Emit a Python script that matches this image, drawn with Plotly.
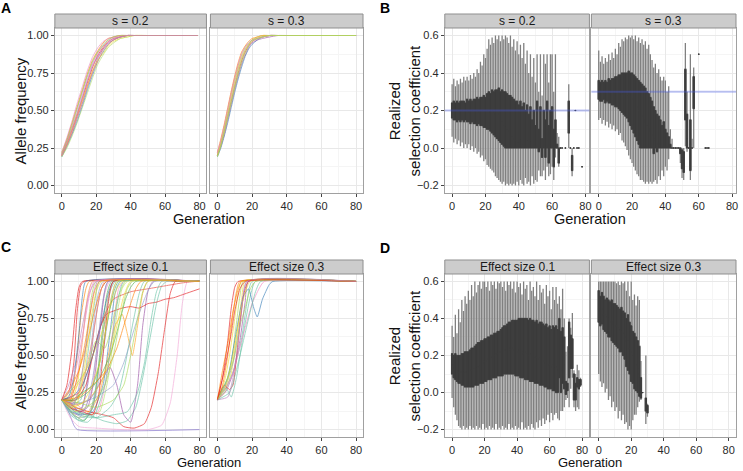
import plotly.graph_objects as go

W, H = 743, 471

# ---------------- Panel A: allele frequency trajectories ----------------
a_s02_gens = [0, 3, 6, 9, 12, 15, 18, 21, 24, 27, 30, 34, 38, 42, 50, 79]
a_s02_freqs = [
    [0.20, 0.28, 0.37, 0.47, 0.58, 0.69, 0.79, 0.87, 0.92, 0.96, 0.98, 0.99, 1.0, 1.0, 1.0, 1.0],
    [0.21, 0.30, 0.40, 0.51, 0.62, 0.73, 0.82, 0.89, 0.94, 0.97, 0.99, 1.0, 1.0, 1.0, 1.0, 1.0],
    [0.19, 0.26, 0.34, 0.43, 0.53, 0.64, 0.74, 0.83, 0.89, 0.94, 0.97, 0.99, 1.0, 1.0, 1.0, 1.0],
    [0.22, 0.31, 0.42, 0.53, 0.64, 0.75, 0.84, 0.90, 0.95, 0.98, 0.99, 1.0, 1.0, 1.0, 1.0, 1.0],
    [0.20, 0.27, 0.35, 0.45, 0.55, 0.66, 0.76, 0.85, 0.91, 0.95, 0.97, 0.99, 1.0, 1.0, 1.0, 1.0],
    [0.21, 0.29, 0.39, 0.49, 0.60, 0.71, 0.81, 0.88, 0.93, 0.96, 0.98, 0.99, 1.0, 1.0, 1.0, 1.0],
    [0.20, 0.28, 0.38, 0.48, 0.57, 0.67, 0.77, 0.84, 0.88, 0.93, 0.96, 0.98, 0.99, 1.0, 1.0, 1.0],
    [0.22, 0.32, 0.43, 0.55, 0.66, 0.77, 0.86, 0.92, 0.96, 0.98, 0.99, 1.0, 1.0, 1.0, 1.0, 1.0],
    [0.19, 0.25, 0.33, 0.42, 0.52, 0.62, 0.72, 0.81, 0.87, 0.92, 0.95, 0.98, 0.99, 1.0, 1.0, 1.0],
    [0.21, 0.30, 0.41, 0.52, 0.63, 0.74, 0.83, 0.89, 0.93, 0.97, 0.99, 1.0, 1.0, 1.0, 1.0, 1.0],
    [0.20, 0.27, 0.36, 0.46, 0.56, 0.67, 0.76, 0.83, 0.90, 0.94, 0.97, 0.99, 1.0, 1.0, 1.0, 1.0],
    [0.20, 0.29, 0.38, 0.48, 0.59, 0.70, 0.80, 0.86, 0.91, 0.95, 0.98, 0.99, 1.0, 1.0, 1.0, 1.0],
]

a_s03_gens = [0, 2, 4, 6, 8, 10, 12, 14, 16, 18, 20, 23, 26, 30, 35, 40, 80]
a_s03_freqs = [
    [0.20, 0.27, 0.36, 0.46, 0.56, 0.66, 0.75, 0.83, 0.89, 0.93, 0.96, 0.98, 0.99, 1.0, 1.0, 1.0, 1.0],
    [0.21, 0.29, 0.39, 0.50, 0.61, 0.71, 0.80, 0.87, 0.92, 0.95, 0.97, 0.99, 1.0, 1.0, 1.0, 1.0, 1.0],
    [0.19, 0.25, 0.33, 0.42, 0.52, 0.62, 0.71, 0.79, 0.86, 0.91, 0.94, 0.97, 0.99, 1.0, 1.0, 1.0, 1.0],
    [0.22, 0.31, 0.41, 0.52, 0.63, 0.73, 0.82, 0.89, 0.93, 0.96, 0.98, 0.99, 1.0, 1.0, 1.0, 1.0, 1.0],
    [0.20, 0.26, 0.34, 0.44, 0.54, 0.64, 0.73, 0.81, 0.87, 0.92, 0.95, 0.97, 0.98, 0.99, 1.0, 1.0, 1.0],
    [0.21, 0.28, 0.37, 0.48, 0.59, 0.69, 0.78, 0.85, 0.90, 0.94, 0.96, 0.98, 0.99, 1.0, 1.0, 1.0, 1.0],
    [0.20, 0.28, 0.38, 0.49, 0.60, 0.70, 0.79, 0.86, 0.91, 0.94, 0.97, 0.99, 1.0, 1.0, 1.0, 1.0, 1.0],
    [0.22, 0.30, 0.40, 0.51, 0.62, 0.72, 0.81, 0.88, 0.92, 0.95, 0.97, 0.98, 0.99, 1.0, 1.0, 1.0, 1.0],
    [0.19, 0.26, 0.35, 0.45, 0.55, 0.65, 0.74, 0.82, 0.88, 0.93, 0.96, 0.98, 0.99, 1.0, 1.0, 1.0, 1.0],
    [0.20, 0.27, 0.37, 0.47, 0.57, 0.67, 0.77, 0.84, 0.90, 0.94, 0.97, 0.98, 0.99, 1.0, 1.0, 1.0, 1.0],
]

# ---------------- Panel C: allele frequency trajectories ----------------
eff01_gens = [
    [0, 4, 7, 9, 11, 13, 80], [0, 5, 8, 11, 14, 16, 80], [0, 5, 9, 12, 15, 18, 80],
    [0, 6, 10, 14, 17, 20, 80], [0, 6, 11, 15, 19, 22, 80], [0, 7, 12, 16, 20, 24, 80],
    [0, 5, 10, 15, 19, 23, 26, 80], [0, 6, 12, 17, 21, 25, 28, 80], [0, 8, 14, 19, 23, 27, 30, 80],
    [0, 7, 13, 18, 22, 26, 29, 80], [0, 6, 12, 18, 24, 28, 31, 34, 80], [0, 8, 15, 21, 26, 30, 33, 36, 80],
    [0, 5, 10, 16, 22, 27, 31, 35, 38, 80], [0, 4, 7, 9, 80],
    [0, 5, 10, 20, 35, 50, 58, 63, 67, 70, 73, 80],
    [0, 8, 16, 24, 30, 36, 42, 48, 52, 56, 60, 63, 66, 80],
    [0, 8, 16, 24, 32, 38, 43, 47, 51, 55, 58, 61, 80],
    [0, 10, 20, 28, 33, 37, 41, 45, 48, 80],
    [0, 8, 16, 24, 28, 32, 36, 40, 44, 47, 50, 53, 80],
    [0, 8, 16, 22, 27, 31, 35, 38, 41, 44, 47, 50, 80],
    [0, 8, 14, 18, 22, 26, 30, 35, 40, 45, 50, 55, 60, 65, 70, 75, 80],
    [0, 10, 18, 24, 30, 40, 50, 60, 70, 78, 80],
    [0, 10, 20, 30, 36, 40, 44, 48, 51, 54, 80],
    [0, 8, 15, 22, 28, 33, 37, 40, 43, 80], [0, 6, 12, 18, 24, 28, 32, 35, 80],
    [0, 6, 12, 18, 23, 27, 30, 80], [0, 8, 14, 20, 25, 29, 33, 37, 80],
    [0, 5, 10, 15, 19, 23, 26, 80], [0, 4, 8, 12, 16, 20, 80], [0, 3, 6, 8, 10, 12, 80],
    [0, 4, 8, 12, 15, 18, 80], [0, 5, 9, 13, 17, 20, 23, 80],
    [0, 5, 9, 12, 16, 20, 24, 28, 31, 80], [0, 5, 9, 13, 17, 21, 25, 29, 32, 80],
    [0, 10, 20, 30, 38, 44, 48, 52, 55, 58, 80], [0, 8, 15, 22, 27, 32, 36, 40, 80],
    [0, 10, 18, 26, 32, 36, 40, 43, 46, 80], [0, 6, 12, 18, 21, 24, 27, 30, 80],
    [0, 5, 10, 15, 19, 23, 27, 80], [0, 6, 12, 18, 22, 26, 30, 33, 80],
    [0, 10, 20, 30, 36, 40, 44, 47, 50, 80], [0, 4, 7, 10, 12, 14, 80],
    [0, 4, 8, 12, 15, 18, 21, 80], [0, 5, 10, 14, 18, 22, 25, 80],
    [0, 6, 10, 14, 18, 21, 24, 27, 80], [0, 6, 12, 17, 22, 26, 29, 32, 80],
    [0, 5, 10, 15, 20, 25, 29, 33, 36, 80], [0, 4, 9, 13, 16, 19, 80],
    [0, 7, 14, 20, 25, 30, 34, 38, 41, 80], [0, 5, 9, 13, 16, 19, 22, 80],
]
eff01_freqs = [
    [0.2, 0.25, 0.45, 0.8, 0.97, 1.0, 1.0], [0.2, 0.22, 0.4, 0.75, 0.95, 1.0, 1.0],
    [0.2, 0.18, 0.3, 0.6, 0.9, 1.0, 1.0], [0.2, 0.15, 0.25, 0.55, 0.88, 1.0, 1.0],
    [0.2, 0.17, 0.2, 0.5, 0.85, 1.0, 1.0], [0.2, 0.14, 0.15, 0.45, 0.85, 1.0, 1.0],
    [0.2, 0.12, 0.1, 0.3, 0.7, 0.95, 1.0, 1.0], [0.2, 0.15, 0.12, 0.25, 0.6, 0.92, 1.0, 1.0],
    [0.2, 0.13, 0.1, 0.2, 0.55, 0.9, 1.0, 1.0], [0.2, 0.1, 0.06, 0.15, 0.5, 0.9, 1.0, 1.0],
    [0.2, 0.12, 0.1, 0.12, 0.3, 0.65, 0.92, 1.0, 1.0], [0.2, 0.18, 0.1, 0.12, 0.35, 0.7, 0.95, 1.0, 1.0],
    [0.2, 0.12, 0.08, 0.1, 0.12, 0.35, 0.7, 0.95, 1.0, 1.0], [0.2, 0.12, 0.03, 0.0, 0.0],
    [0.2, 0.08, 0.02, 0.01, 0.0, 0.0, 0.03, 0.18, 0.5, 0.85, 1.0, 1.0],
    [0.2, 0.15, 0.12, 0.1, 0.08, 0.02, 0.01, 0.04, 0.15, 0.38, 0.7, 0.92, 1.0, 1.0],
    [0.2, 0.12, 0.1, 0.06, 0.04, 0.06, 0.15, 0.35, 0.6, 0.85, 0.97, 1.0, 1.0],
    [0.2, 0.1, 0.08, 0.15, 0.25, 0.45, 0.7, 0.92, 1.0, 1.0],
    [0.2, 0.17, 0.2, 0.35, 0.42, 0.3, 0.1, 0.05, 0.3, 0.7, 0.93, 1.0, 1.0],
    [0.2, 0.15, 0.12, 0.25, 0.5, 0.7, 0.78, 0.65, 0.5, 0.7, 0.92, 1.0, 1.0],
    [0.2, 0.2, 0.3, 0.5, 0.68, 0.78, 0.8, 0.82, 0.83, 0.82, 0.85, 0.86, 0.88, 0.89, 0.91, 0.93, 0.95],
    [0.2, 0.25, 0.5, 0.75, 0.88, 0.93, 0.95, 0.97, 0.99, 1.0, 1.0],
    [0.2, 0.18, 0.22, 0.3, 0.45, 0.6, 0.75, 0.88, 0.96, 1.0, 1.0],
    [0.2, 0.2, 0.25, 0.35, 0.5, 0.7, 0.88, 0.96, 1.0, 1.0], [0.2, 0.25, 0.35, 0.5, 0.68, 0.82, 0.95, 1.0, 1.0],
    [0.2, 0.22, 0.3, 0.5, 0.72, 0.92, 1.0, 1.0], [0.2, 0.3, 0.4, 0.6, 0.55, 0.7, 0.9, 1.0, 1.0],
    [0.2, 0.28, 0.4, 0.6, 0.8, 0.95, 1.0, 1.0], [0.2, 0.3, 0.45, 0.7, 0.92, 1.0, 1.0],
    [0.2, 0.3, 0.55, 0.8, 0.96, 1.0, 1.0],
    [0.2, 0.2, 0.3, 0.6, 0.88, 1.0, 1.0], [0.2, 0.14, 0.18, 0.4, 0.75, 0.93, 1.0, 1.0],
    [0.2, 0.12, 0.07, 0.06, 0.1, 0.3, 0.65, 0.93, 1.0, 1.0], [0.2, 0.15, 0.1, 0.08, 0.12, 0.3, 0.6, 0.9, 1.0, 1.0],
    [0.2, 0.12, 0.08, 0.1, 0.12, 0.25, 0.45, 0.75, 0.93, 1.0, 1.0], [0.2, 0.16, 0.2, 0.3, 0.45, 0.7, 0.9, 1.0, 1.0],
    [0.2, 0.22, 0.3, 0.4, 0.55, 0.7, 0.85, 0.95, 1.0, 1.0], [0.2, 0.14, 0.12, 0.1, 0.2, 0.5, 0.85, 1.0, 1.0],
    [0.2, 0.18, 0.12, 0.15, 0.35, 0.75, 1.0, 1.0], [0.2, 0.2, 0.25, 0.3, 0.45, 0.7, 0.92, 1.0, 1.0],
    [0.2, 0.18, 0.15, 0.2, 0.3, 0.5, 0.75, 0.93, 1.0, 1.0], [0.2, 0.22, 0.35, 0.65, 0.9, 1.0, 1.0],
    [0.2, 0.15, 0.2, 0.4, 0.65, 0.9, 1.0, 1.0], [0.2, 0.18, 0.25, 0.4, 0.62, 0.9, 1.0, 1.0],
    [0.2, 0.1, 0.08, 0.15, 0.35, 0.6, 0.88, 1.0, 1.0], [0.2, 0.15, 0.18, 0.28, 0.45, 0.7, 0.9, 1.0, 1.0],
    [0.2, 0.1, 0.06, 0.05, 0.12, 0.3, 0.6, 0.9, 1.0, 1.0], [0.2, 0.25, 0.45, 0.7, 0.9, 1.0, 1.0],
    [0.2, 0.12, 0.15, 0.2, 0.3, 0.5, 0.75, 0.95, 1.0, 1.0], [0.2, 0.2, 0.35, 0.55, 0.75, 0.93, 1.0, 1.0],
]
eff01_colors = [
    "#E41A1C", "#FF7F00", "#F2D830", "#A6D854", "#66C2A5", "#8DA0CB", "#984EA3",
    "#E78AC3", "#FC8D62", "#4DAF4A", "#377EB8", "#F781BF", "#B3DE69", "#7B68C8",
    "#F4A6D7", "#E41A1C", "#66C2A5", "#66C2A5", "#984EA3", "#FF9F1C",
    "#E41A1C", "#E8403A", "#8DA0CB", "#4DAF4A", "#F2D830", "#377EB8", "#A6D854",
    "#FF7F00", "#BC80BD", "#E41A1C", "#F781BF", "#F2D830", "#66C2A5", "#8DA0CB",
    "#66C2A5", "#F2D830", "#FF7F00", "#E41A1C", "#984EA3", "#4DAF4A", "#A6D854", "#377EB8",
    "#BC80BD", "#FC8D62", "#8DA0CB", "#F2D830", "#66C2A5", "#E78AC3", "#A6D854", "#FF7F00",
]

eff03_gens = [
    [0, 3, 6, 8, 10, 12, 80], [0, 3, 6, 9, 11, 13, 80], [0, 4, 7, 10, 12, 14, 80],
    [0, 4, 8, 11, 13, 15, 80], [0, 4, 8, 11, 14, 16, 80], [0, 5, 9, 12, 15, 17, 80],
    [0, 5, 9, 13, 16, 18, 80], [0, 5, 10, 14, 17, 20, 80], [0, 4, 7, 9, 12, 15, 18, 80],
    [0, 5, 8, 11, 15, 19, 22, 80], [0, 6, 10, 15, 18, 21, 23, 26, 30, 32, 80],
    [0, 8, 14, 20, 24, 27, 80], [0, 7, 12, 18, 22, 25, 80], [0, 3, 6, 9, 12, 14, 80],
    [0, 5, 9, 12, 15, 19, 80], [0, 6, 10, 13, 16, 19, 22, 80], [0, 4, 8, 10, 13, 16, 80],
    [0, 6, 9, 12, 14, 17, 80],
]
eff03_freqs = [
    [0.2, 0.35, 0.6, 0.82, 0.96, 1.0, 1.0], [0.2, 0.3, 0.5, 0.78, 0.93, 1.0, 1.0],
    [0.2, 0.32, 0.5, 0.75, 0.92, 1.0, 1.0], [0.2, 0.28, 0.45, 0.72, 0.9, 1.0, 1.0],
    [0.2, 0.25, 0.38, 0.62, 0.88, 1.0, 1.0], [0.2, 0.3, 0.45, 0.65, 0.9, 1.0, 1.0],
    [0.2, 0.26, 0.38, 0.6, 0.86, 1.0, 1.0], [0.2, 0.28, 0.42, 0.62, 0.85, 1.0, 1.0],
    [0.2, 0.3, 0.27, 0.3, 0.6, 0.9, 1.0, 1.0], [0.2, 0.28, 0.22, 0.35, 0.65, 0.9, 1.0, 1.0],
    [0.2, 0.35, 0.6, 0.9, 0.95, 0.82, 0.76, 0.88, 0.98, 1.0, 1.0],
    [0.2, 0.35, 0.6, 0.85, 0.95, 1.0, 1.0], [0.2, 0.25, 0.45, 0.75, 0.93, 1.0, 1.0],
    [0.2, 0.4, 0.58, 0.8, 0.95, 1.0, 1.0], [0.2, 0.3, 0.5, 0.7, 0.88, 1.0, 1.0],
    [0.2, 0.35, 0.5, 0.7, 0.82, 0.95, 1.0, 1.0], [0.2, 0.4, 0.65, 0.8, 0.95, 1.0, 1.0],
    [0.2, 0.22, 0.35, 0.58, 0.8, 1.0, 1.0],
]
eff03_colors = ["#E41A1C", "#FF7F00", "#F2D830", "#A6D854", "#F2D830", "#8DA0CB", "#984EA3",
                "#66C2A5", "#E41A1C", "#66C2A5", "#377EB8", "#F781BF", "#66C2A5", "#FF7F00",
                "#F2D830", "#A6D854", "#E41A1C", "#BC80BD"]

# ---------------- Panel B: realized selection coefficient boxes ----------------
b02_gen = list(range(0, 67)) + [68, 70, 71, 72, 73, 74, 75, 76, 78]
b02_hi = [0.34, 0.37, 0.33, 0.36, 0.34, 0.37, 0.35, 0.38, 0.36, 0.38, 0.36, 0.39, 0.37, 0.40, 0.38, 0.42, 0.40,
          0.46, 0.44, 0.50, 0.48, 0.53, 0.58, 0.55, 0.59, 0.56, 0.60, 0.58, 0.60, 0.57, 0.60, 0.58, 0.60, 0.59,
          0.56, 0.60, 0.54, 0.58, 0.52, 0.57, 0.50, 0.55, 0.48, 0.56, 0.45, 0.52, 0.40, 0.50, 0.38, 0.48, 0.35,
          0.50, 0.30, 0.50, 0.28, 0.50, 0.45, 0.50, 0.35, 0.50, 0.50, 0.30, 0.50, 0.08, 0.06, 0.0, 0.0,
          0.0, 0.34, 0.0, 0.0, 0.0, 0.20, 0.0, 0.0, -0.10]
b02_q3 = [0.24, 0.25, 0.24, 0.25, 0.24, 0.25, 0.25, 0.25, 0.24, 0.26, 0.25, 0.26, 0.25, 0.26, 0.26, 0.27, 0.26,
          0.27, 0.27, 0.28, 0.27, 0.29, 0.30, 0.29, 0.31, 0.30, 0.31, 0.31, 0.32, 0.30, 0.31, 0.30, 0.30, 0.29,
          0.28, 0.28, 0.27, 0.26, 0.25, 0.25, 0.23, 0.25, 0.22, 0.24, 0.20, 0.23, 0.18, 0.22, 0.15, 0.20, 0.12,
          0.25, 0.10, 0.22, 0.05, 0.20, 0.15, 0.25, 0.12, 0.20, 0.22, 0.10, 0.15, 0.02, 0.0, 0.0, 0.0,
          0.0, 0.25, 0.0, -0.04, 0.0, 0.20, 0.0, 0.0, -0.10]
b02_med = [0.20, 0.20, 0.20, 0.20, 0.21, 0.20, 0.20, 0.20, 0.20, 0.20, 0.19, 0.20, 0.20, 0.20, 0.20, 0.20, 0.19,
           0.20, 0.20, 0.20, 0.20, 0.20, 0.20, 0.19, 0.20, 0.19, 0.18, 0.17, 0.18, 0.15, 0.14, 0.12, 0.11, 0.10,
           0.09, 0.08, 0.06, 0.05, 0.04, 0.03, 0.03, 0.05, 0.02, 0.06, 0.0, 0.04, 0.0, 0.03, 0.0, 0.05, 0.0,
           0.08, 0.0, 0.05, 0.0, 0.04, 0.0, 0.10, 0.0, 0.02, 0.05, 0.0, 0.0, 0.0, -0.02, 0.0, 0.0,
           0.0, 0.17, 0.0, -0.08, 0.0, 0.20, 0.0, 0.0, -0.10]
b02_q1 = [0.16, 0.15, 0.15, 0.14, 0.15, 0.14, 0.15, 0.14, 0.15, 0.14, 0.14, 0.13, 0.14, 0.13, 0.13, 0.12, 0.13,
          0.12, 0.12, 0.11, 0.11, 0.10, 0.10, 0.09, 0.08, 0.07, 0.06, 0.05, 0.04, 0.03, 0.02, 0.01, 0.0, 0.0,
          0.0, 0.0, 0.0, 0.0, 0.0, 0.0, 0.0, 0.0, 0.0, 0.0, 0.0, 0.0, 0.0, 0.0, 0.0, 0.0, 0.0,
          0.0, -0.02, 0.0, -0.05, 0.0, -0.05, 0.0, -0.08, 0.0, 0.0, -0.10, 0.0, 0.0, -0.08, 0.0, 0.0,
          0.0, 0.08, 0.0, -0.12, 0.0, 0.20, 0.0, 0.0, -0.10]
b02_lo = [0.06, 0.03, 0.05, 0.02, 0.04, 0.01, 0.03, 0.00, 0.02, 0.00, 0.02, -0.01, 0.01, -0.02, 0.00, -0.03, -0.02,
          -0.05, -0.04, -0.07, -0.06, -0.09, -0.10, -0.11, -0.12, -0.13, -0.15, -0.16, -0.17, -0.18, -0.19, -0.18,
          -0.20, -0.19, -0.20, -0.19, -0.20, -0.19, -0.20, -0.18, -0.20, -0.17, -0.19, -0.20, -0.16, -0.19, -0.18,
          -0.20, -0.15, -0.19, -0.17, -0.18, -0.12, -0.15, -0.15, -0.12, -0.17, -0.10, -0.15, -0.14, -0.10, -0.17,
          -0.05, 0.0, -0.10, 0.0, 0.0,
          0.0, 0.0, 0.0, -0.15, 0.0, 0.20, 0.0, 0.0, -0.10]

b03_gen = list(range(0, 58)) + [60, 64, 65, 66]
b03_hi = [0.52, 0.46, 0.49, 0.45, 0.48, 0.46, 0.50, 0.47, 0.51, 0.48, 0.53, 0.50, 0.56, 0.54, 0.58, 0.57, 0.59,
          0.58, 0.60, 0.59, 0.60, 0.58, 0.60, 0.57, 0.59, 0.56, 0.58, 0.55, 0.57, 0.53, 0.55, 0.50, 0.47, 0.43,
          0.45, 0.40, 0.42, 0.38, 0.36, 0.38, 0.36, 0.30, 0.33, 0.10, 0.05, 0.0, 0.0, 0.0, 0.0, 0.0, 0.0, 0.0,
          0.56, 0.30, 0.0, 0.50, 0.05, 0.43, 0.50, 0.0, 0.0, 0.0]
b03_q3 = [0.36, 0.35, 0.36, 0.35, 0.36, 0.35, 0.37, 0.36, 0.37, 0.37, 0.38, 0.38, 0.39, 0.39, 0.40, 0.40, 0.40,
          0.40, 0.41, 0.40, 0.40, 0.39, 0.38, 0.37, 0.36, 0.35, 0.34, 0.33, 0.32, 0.30, 0.29, 0.27, 0.25, 0.22,
          0.20, 0.18, 0.17, 0.15, 0.12, 0.14, 0.10, 0.08, 0.06, 0.02, 0.0, 0.0, 0.0, 0.0, 0.0, 0.0, -0.01, -0.02,
          0.42, 0.18, 0.0, 0.15, 0.0, 0.38, 0.50, 0.0, 0.0, 0.0]
b03_med = [0.30, 0.30, 0.30, 0.31, 0.30, 0.30, 0.30, 0.30, 0.30, 0.30, 0.30, 0.30, 0.30, 0.29, 0.29, 0.29, 0.29,
           0.28, 0.28, 0.27, 0.26, 0.25, 0.23, 0.22, 0.20, 0.19, 0.17, 0.15, 0.14, 0.12, 0.10, 0.09, 0.07, 0.05,
           0.04, 0.02, 0.0, 0.02, 0.0, 0.01, 0.0, 0.0, 0.0, 0.0, 0.0, 0.0, 0.0, 0.0, 0.0, 0.0, -0.05, -0.08,
           0.28, 0.05, 0.0, 0.02, 0.0, 0.30, 0.50, 0.0, 0.0, 0.0]
b03_q1 = [0.26, 0.25, 0.25, 0.26, 0.24, 0.25, 0.24, 0.24, 0.23, 0.23, 0.22, 0.22, 0.21, 0.20, 0.19, 0.18, 0.17,
          0.16, 0.14, 0.12, 0.10, 0.08, 0.06, 0.04, 0.02, 0.0, 0.0, 0.0, 0.0, 0.0, 0.0, 0.0, 0.0, -0.03,
          0.0, -0.02, 0.0, 0.0, 0.0, 0.0, 0.0, 0.0, 0.0, 0.0, 0.0, 0.0, 0.0, 0.0, 0.0, -0.03, -0.11, -0.13,
          0.15, 0.0, 0.0, -0.12, 0.0, 0.21, 0.50, 0.0, 0.0, 0.0]
b03_lo = [0.15, 0.16, 0.13, 0.15, 0.12, 0.14, 0.11, 0.13, 0.10, 0.12, 0.09, 0.10, 0.07, 0.08, 0.04, 0.03, 0.01,
          -0.01, -0.04, -0.06, -0.08, -0.10, -0.12, -0.14, -0.15, -0.17, -0.17, -0.18, -0.19, -0.18, -0.19, -0.18,
          -0.19, -0.18, -0.17, -0.19, -0.15, -0.17, -0.12, -0.15, -0.10, -0.12, -0.06, 0.0, 0.0, 0.0, 0.0, 0.0,
          0.0, -0.08, -0.16, -0.17, 0.01, -0.02, 0.0, -0.17, 0.0, 0.0, 0.50, 0.0, 0.0, 0.0]

# ---------------- Panel D: realized selection coefficient boxes ----------------
d01_gen = list(range(0, 80))
d01_hi = [0.36, 0.30, 0.42, 0.32, 0.45, 0.38, 0.50, 0.44, 0.52, 0.48, 0.55, 0.50, 0.58, 0.52, 0.60, 0.54, 0.58,
          0.60, 0.56, 0.60, 0.60, 0.57, 0.60, 0.55, 0.60, 0.58, 0.60, 0.56, 0.60, 0.59, 0.60, 0.57, 0.60, 0.55,
          0.60, 0.58, 0.60, 0.56, 0.60, 0.54, 0.60, 0.57, 0.59, 0.53, 0.60, 0.56, 0.58, 0.50, 0.60, 0.55, 0.57,
          0.52, 0.60, 0.50, 0.58, 0.54, 0.56, 0.48, 0.58, 0.52, 0.55, 0.45, 0.57, 0.50, 0.57, 0.48, 0.52, 0.45,
          0.56, 0.40, 0.22, 0.25, 0.40, 0.35, 0.43, 0.12, 0.10, 0.15, 0.12, 0.08]
d01_q3 = [0.21, 0.20, 0.21, 0.20, 0.20, 0.20, 0.21, 0.21, 0.22, 0.22, 0.22, 0.23, 0.24, 0.24, 0.25, 0.26, 0.27,
          0.27, 0.28, 0.28, 0.29, 0.29, 0.30, 0.30, 0.31, 0.31, 0.32, 0.32, 0.33, 0.33, 0.34, 0.35, 0.36, 0.36,
          0.37, 0.38, 0.38, 0.39, 0.39, 0.39, 0.39, 0.40, 0.40, 0.40, 0.40, 0.40, 0.40, 0.39, 0.40, 0.39, 0.39,
          0.38, 0.39, 0.37, 0.38, 0.38, 0.37, 0.36, 0.37, 0.35, 0.36, 0.34, 0.36, 0.35, 0.36, 0.34, 0.40, 0.33,
          0.35, 0.30, 0.06, 0.05, 0.38, 0.31, 0.29, 0.10, 0.05, 0.08, 0.07, 0.07]
d01_med = [0.15, 0.13, 0.12, 0.12, 0.11, 0.11, 0.11, 0.11, 0.11, 0.11, 0.11, 0.12, 0.12, 0.13, 0.13, 0.14, 0.14,
           0.15, 0.16, 0.16, 0.17, 0.17, 0.18, 0.18, 0.19, 0.20, 0.20, 0.21, 0.21, 0.22, 0.22, 0.22, 0.23, 0.23,
           0.24, 0.24, 0.23, 0.24, 0.23, 0.22, 0.22, 0.23, 0.22, 0.22, 0.21, 0.22, 0.21, 0.20, 0.21, 0.20, 0.20,
           0.19, 0.19, 0.18, 0.19, 0.18, 0.17, 0.16, 0.17, 0.15, 0.15, 0.14, 0.15, 0.13, 0.14, 0.12, 0.22, 0.12,
           0.20, 0.15, 0.03, 0.03, 0.22, 0.22, 0.21, 0.03, 0.00, 0.05, 0.05, 0.06]
d01_q1 = [0.10, 0.08, 0.07, 0.06, 0.05, 0.05, 0.04, 0.04, 0.03, 0.03, 0.03, 0.03, 0.03, 0.03, 0.04, 0.04, 0.04,
          0.05, 0.05, 0.05, 0.06, 0.06, 0.07, 0.07, 0.07, 0.08, 0.08, 0.08, 0.09, 0.09, 0.09, 0.09, 0.10, 0.10,
          0.10, 0.10, 0.10, 0.10, 0.10, 0.09, 0.09, 0.09, 0.08, 0.08, 0.08, 0.07, 0.07, 0.07, 0.06, 0.06, 0.06,
          0.05, 0.05, 0.05, 0.04, 0.04, 0.04, 0.03, 0.03, 0.02, 0.02, 0.02, 0.01, 0.01, 0.00, 0.00, 0.08, 0.00,
          0.05, 0.02, -0.01, 0.01, 0.08, 0.13, 0.13, -0.04, -0.04, 0.03, 0.02, 0.04]
d01_lo = [-0.03, -0.08, -0.12, -0.15, -0.18, -0.19, -0.20, -0.18, -0.20, -0.19, -0.20, -0.18, -0.20, -0.19, -0.20,
          -0.18, -0.20, -0.19, -0.20, -0.17, -0.20, -0.19, -0.20, -0.18, -0.20, -0.19, -0.20, -0.17, -0.20, -0.19,
          -0.20, -0.18, -0.20, -0.19, -0.20, -0.17, -0.20, -0.19, -0.20, -0.18, -0.20, -0.19, -0.20, -0.16, -0.20,
          -0.19, -0.20, -0.18, -0.20, -0.17, -0.19, -0.20, -0.16, -0.19, -0.15, -0.18, -0.14, -0.17, -0.15, -0.12,
          -0.16, -0.11, -0.15, -0.12, -0.11, -0.14, -0.15, -0.10, -0.10, -0.08, -0.04, -0.03, -0.08, 0.02, 0.08,
          -0.08, -0.10, -0.08, -0.09, 0.03]

d03_gen = list(range(0, 27)) + [27, 29, 30]
d03_hi = [0.60, 0.60, 0.60, 0.60, 0.60, 0.60, 0.60, 0.60, 0.60, 0.60, 0.60, 0.59, 0.60, 0.58, 0.60, 0.59,
          0.60, 0.55, 0.60, 0.52, 0.60, 0.50, 0.53, 0.47, 0.52, 0.50, 0.17, 0.0, 0.20, -0.06]
d03_q3 = [0.55, 0.52, 0.54, 0.52, 0.50, 0.51, 0.50, 0.49, 0.50, 0.48, 0.48, 0.47, 0.46, 0.45, 0.46, 0.44,
          0.43, 0.40, 0.42, 0.38, 0.36, 0.33, 0.32, 0.30, 0.28, 0.25, 0.08, 0.0, -0.03, -0.07]
d03_med = [0.45, 0.44, 0.45, 0.42, 0.42, 0.41, 0.40, 0.38, 0.38, 0.37, 0.36, 0.36, 0.35, 0.34, 0.33, 0.32,
           0.30, 0.28, 0.28, 0.24, 0.22, 0.20, 0.18, 0.15, 0.13, 0.10, 0.00, 0.0, -0.05, -0.09]
d03_q1 = [0.38, 0.36, 0.37, 0.34, 0.33, 0.32, 0.30, 0.30, 0.28, 0.27, 0.26, 0.25, 0.24, 0.22, 0.22, 0.20,
          0.18, 0.14, 0.12, 0.10, 0.06, 0.05, 0.02, 0.01, 0.00, -0.02, -0.03, 0.0, -0.10, -0.11]
d03_lo = [0.10, 0.06, 0.03, 0.05, 0.00, 0.02, -0.04, -0.02, -0.08, -0.05, -0.10, -0.08, -0.14, -0.10, -0.15,
          -0.12, -0.17, -0.16, -0.20, -0.18, -0.20, -0.15, -0.12, -0.12, -0.08, -0.05, -0.04, 0.0, -0.17, -0.13]

true_s = [0.2, 0.3]
facet_labels = ["s = 0.2", "s = 0.3", "s = 0.2", "s = 0.3",
                "Effect size 0.1", "Effect size 0.3", "Effect size 0.1", "Effect size 0.3"]
x_ticks = [0, 20, 40, 60, 80]
x_minor = [10, 30, 50, 70]
freq_ticks = [0.0, 0.25, 0.5, 0.75, 1.0]
freq_minor = [0.125, 0.375, 0.625, 0.875]
sel_ticks = [-0.2, 0.0, 0.2, 0.4, 0.6]
sel_minor = [-0.1, 0.1, 0.3, 0.5]

# ---------------- styling ----------------
FONT = "Liberation Sans, Arial, Helvetica, sans-serif"
palette = ["#E41A1C", "#FF7F00", "#F2D830", "#A6D854", "#66C2A5", "#8DA0CB", "#984EA3",
           "#E78AC3", "#FC8D62", "#4DAF4A", "#377EB8", "#F781BF", "#B3DE69", "#BC80BD"]

# panel pixel boxes: left, right, top, bottom
boxes = {1: (55, 207, 28, 193), 2: (211, 364, 28, 193), 3: (446, 591, 28, 193), 4: (593, 738, 28, 193),
         5: (55, 207, 274, 437), 6: (211, 364, 274, 437), 7: (446, 591, 274, 437), 8: (593, 738, 274, 437)}

fig = go.Figure()


def ax_names(i):
    return ("x" if i == 1 else f"x{i}"), ("y" if i == 1 else f"y{i}")


def add_lines(i, gens_list, freqs_list, colors=None, shared=False):
    xa, ya = ax_names(i)
    for k, fr in enumerate(freqs_list):
        g = gens_list if shared else gens_list[k]
        col = colors[k] if colors else palette[(k * 5) % len(palette)]
        fig.add_trace(go.Scatter(x=g, y=fr, mode="lines", xaxis=xa, yaxis=ya,
                                 line=dict(color=col, width=0.9, shape="spline", smoothing=0.5),
                                 opacity=0.7, showlegend=False, hoverinfo="skip"))


def add_boxes(i, gen, lo, q1, med, q3, hi):
    xa, ya = ax_names(i)
    # whiskers (lighter grey)
    fig.add_trace(go.Box(x=gen, lowerfence=lo, q1=q1, median=med, q3=q3, upperfence=hi,
                         xaxis=xa, yaxis=ya, width=0.6, whiskerwidth=0, boxpoints=False,
                         fillcolor="rgba(120,120,120,0.9)", line=dict(color="#808080", width=1.3),
                         showlegend=False, hoverinfo="skip"))
    # interquartile boxes (dark grey)
    fig.add_trace(go.Box(x=gen, lowerfence=q1, q1=q1, median=med, q3=q3, upperfence=q3,
                         xaxis=xa, yaxis=ya, width=0.8, whiskerwidth=0, boxpoints=False,
                         fillcolor="rgba(55,55,55,0.95)", line=dict(color="#3d3d3d", width=1.0),
                         showlegend=False, hoverinfo="skip"))


add_lines(1, a_s02_gens, a_s02_freqs, shared=True)
add_lines(2, a_s03_gens, a_s03_freqs, shared=True)
add_boxes(3, b02_gen, b02_lo, b02_q1, b02_med, b02_q3, b02_hi)
add_boxes(4, b03_gen, b03_lo, b03_q1, b03_med, b03_q3, b03_hi)
add_lines(5, eff01_gens, eff01_freqs, colors=eff01_colors)
add_lines(6, eff03_gens, eff03_freqs, colors=eff03_colors)
add_boxes(7, d01_gen, d01_lo, d01_q1, d01_med, d01_q3, d01_hi)
add_boxes(8, d03_gen, d03_lo, d03_q1, d03_med, d03_q3, d03_hi)

x_ranges = {1: [-4, 84], 2: [-4, 84], 5: [-4, 84], 6: [-4, 84],
            3: [-4.39, 82.39], 4: [-4.39, 82.39], 7: [-4.49, 84.49], 8: [-4.49, 84.49]}
layout = {}
for i, (l, r, t, b) in boxes.items():
    xa, ya = ax_names(i)
    is_freq = i in (1, 2, 5, 6)
    left_col = i in (1, 3, 5, 7)
    common = dict(showline=True, mirror=True, linecolor="#a0a0a0", linewidth=1,
                  showgrid=True, gridcolor="#e8e8e8", gridwidth=1, zeroline=False,
                  tickfont=dict(size=11, color="#2a2a2a", family=FONT),
                  ticks="outside", ticklen=3, tickwidth=1, tickcolor="#444")
    xkey = "xaxis" if i == 1 else f"xaxis{i}"
    ykey = "yaxis" if i == 1 else f"yaxis{i}"
    layout[xkey] = dict(common, domain=[l / W, r / W], range=x_ranges[i], anchor=ya,
                        tickvals=x_ticks, ticktext=[str(v) for v in x_ticks],
                        minor=dict(tickvals=x_minor, showgrid=True, gridcolor="#f5f5f5", ticks=""))
    yd = dict(common, domain=[1 - b / H, 1 - t / H], anchor=xa,
              range=[-0.05, 1.05] if is_freq else [-0.24, 0.64],
              tickvals=freq_ticks if is_freq else sel_ticks,
              tickformat=".2f" if is_freq else ".1f",
              minor=dict(tickvals=freq_minor if is_freq else sel_minor, showgrid=True,
                         gridcolor="#f5f5f5", ticks=""))
    if not left_col:
        yd["showticklabels"] = False
        yd["ticks"] = ""
    layout[ykey] = yd

shapes = []
annotations = []
for i, (l, r, t, b) in boxes.items():
    st_top, st_bot = t - 14, t
    shapes.append(dict(type="rect", xref="paper", yref="paper", x0=l / W, x1=r / W,
                       y0=1 - st_bot / H, y1=1 - st_top / H, fillcolor="#cccccc",
                       line=dict(color="#8f8f8f", width=1)))
    annotations.append(dict(xref="paper", yref="paper", x=(l + r) / 2 / W, y=1 - (st_top + 7) / H,
                            text=facet_labels[i - 1], showarrow=False, xanchor="center", yanchor="middle",
                            font=dict(size=12, color="#1a1a1a", family=FONT)))

# true selection coefficient lines in panel B
for i, s in zip((3, 4), true_s):
    xa, ya = ax_names(i)
    shapes.append(dict(type="line", xref=f"{xa} domain", yref=ya, x0=0, x1=1, y0=s, y1=s,
                       line=dict(color="rgba(70,90,225,0.35)", width=2), layer="above"))

title_font = dict(size=15, color="#111", family=FONT)
for yc in (110.5, 355.5):
    annotations.append(dict(xref="paper", yref="paper", x=21 / W, y=1 - yc / H, text="Allele frequency",
                            textangle=-90, showarrow=False, xanchor="center", yanchor="middle",
                            font=title_font))
    annotations.append(dict(xref="paper", yref="paper", x=406 / W, y=1 - yc / H,
                            text="Realized<br>selection coefficient",
                            textangle=-90, showarrow=False, xanchor="center", yanchor="middle",
                            font=title_font))
for xc in (209.5, 592):
    annotations.append(dict(xref="paper", yref="paper", x=xc / W, y=1 - 218.5 / H, text="Generation",
                            showarrow=False, xanchor="center", yanchor="middle", borderpad=0,
                            font=dict(title_font, size=14.5)))
    annotations.append(dict(xref="paper", yref="paper", x=xc / W, y=0, text="Generation",
                            showarrow=False, xanchor="center", yanchor="bottom", borderpad=0,
                            font=dict(title_font, size=13)))

for letter, xc, yc in (("A", 6, 8), ("B", 386, 8), ("C", 6, 247), ("D", 386, 248)):
    annotations.append(dict(xref="paper", yref="paper", x=xc / W, y=1 - yc / H, text=f"<b>{letter}</b>",
                            showarrow=False, xanchor="center", yanchor="middle",
                            font=dict(size=14, color="#000", family=FONT)))

fig.update_layout(width=W, height=H, autosize=False, margin=dict(l=0, r=0, t=0, b=0),
                  paper_bgcolor="white", plot_bgcolor="white", showlegend=False, boxmode="overlay",
                  shapes=shapes, annotations=annotations, font=dict(family=FONT), **layout)

fig.write_html("out.html", config={"displayModeBar": False},
               post_script="document.body.style.margin='0';document.body.style.overflow='hidden';")
